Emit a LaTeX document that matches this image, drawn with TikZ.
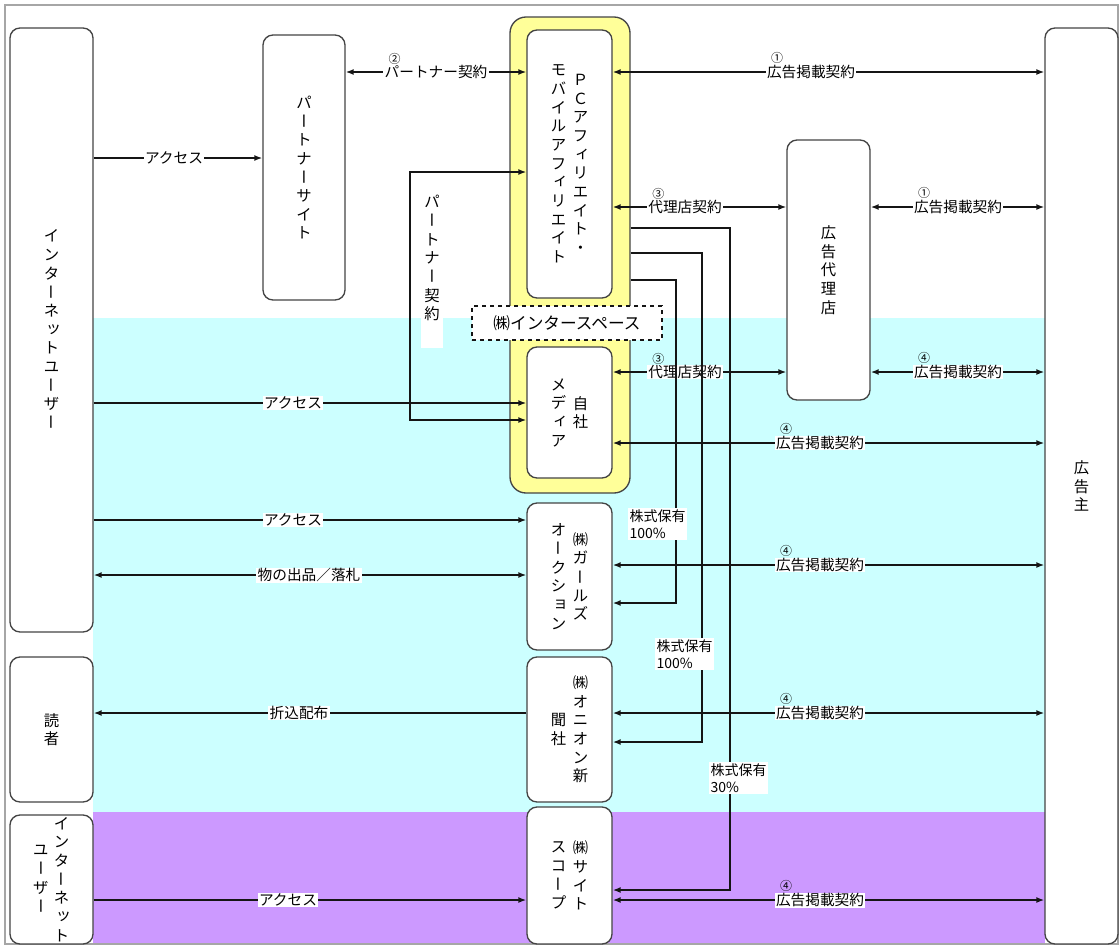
\documentclass[tikz,border=0pt]{standalone}
\usepackage{fontspec}
\usepackage{graphicx}
\setmainfont{Noto Sans CJK JP}
\newfontfamily\vjp{Noto Sans CJK JP}
\usetikzlibrary{arrows.meta,fit}
\definecolor{cyanbg}{HTML}{CCFFFF}
\definecolor{purplebg}{HTML}{CC99FF}
\definecolor{yel}{HTML}{FFFF99}
\definecolor{bord}{HTML}{444444}
\definecolor{ln}{HTML}{151515}
\makeatletter
\newcommand\vt[1]{\vbox{\vjp\fontsize{11.5}{14}\selectfont\baselineskip=14pt\lineskiplimit=-\maxdimen\vt@a#1\relax}}
\def\vt@a#1{\ifx\relax#1\else\hbox to 1.1em{\hss\vt@c{#1}\hss}\expandafter\vt@a\fi}
\def\vt@c#1{\ifcsname vtmap@#1\endcsname\csname vtmap@#1\endcsname\else#1\fi}
\newcommand\vt@small[1]{\raisebox{0.13em}{\kern0.13em#1\kern-0.13em}}
\expandafter\def\csname vtmap@ー\endcsname{\rotatebox[origin=c]{-90}{\rule[-0.12em]{0pt}{1em}ー}}
\expandafter\def\csname vtmap@ィ\endcsname{\vt@small{ィ}}
\expandafter\def\csname vtmap@ッ\endcsname{\vt@small{ッ}}
\expandafter\def\csname vtmap@ョ\endcsname{\vt@small{ョ}}
\makeatother
\tikzset{
  box/.style={draw=bord, line width=1pt, rounded corners=7.5pt, fill=white, inner sep=0pt},
  arr/.style={draw=ln, line width=1.5pt, -{Latex[length=6pt,width=4.5pt]}},
  arrtwo/.style={draw=ln, line width=1.5pt, {Latex[length=6pt,width=4.5pt]}-{Latex[length=6pt,width=4.5pt]}},
  lbl/.style={fill=white, inner xsep=1pt, inner ysep=0.5pt, font=\fontsize{11}{12}\selectfont},
  num/.style={inner sep=0pt, anchor=south west, font=\fontsize{9}{10}\selectfont},
  stk/.style={fill=white, align=left, inner sep=1pt, anchor=north west, font=\fontsize{10.5}{13}\selectfont},
  vtx/.style={inner sep=0pt}
}
\begin{document}
\begin{tikzpicture}[x=0.75pt,y=-0.75pt]
\useasboundingbox (0,0) rectangle (1120,946);
\fill[white] (0,0) rectangle (1120,946);
% background bands
\fill[cyanbg] (93,318) rectangle (1045,812);
\fill[purplebg] (93,812) rectangle (1045,944);
\draw[gray!70, line width=1.2pt] (5,5) rectangle (1118,944);
% boxes
\node[box, fit={(10,28)(93,632)}] (iu) {};
\node[box, fit={(10,657)(93,802)}] (rd) {};
\node[box, fit={(10,815)(93,944)}] (iu2) {};
\node[box, fit={(263,35)(345,300)}] (ps) {};
\node[box, fill=yel, rounded corners=12pt, fit={(510,17)(630,493)}] (yf) {};
\node[box, fit={(527,30)(612,298)}] (pc) {};
\node[draw=ln, dashed, line width=0.8pt, fill=white, inner sep=0pt, fit={(472,306)(662,340)}] (isp) {};
\node[box, fit={(527,347)(612,478)}] (jm) {};
\node[box, fit={(527,503)(612,650)}] (ga) {};
\node[box, fit={(527,657)(612,802)}] (on) {};
\node[box, fit={(527,807)(612,944)}] (ss) {};
\node[box, fit={(787,140)(870,400)}] (ag) {};
\node[box, fit={(1045,28)(1118,944)}] (ad) {};
% box texts
\node[vtx] (tiu) at (iu.center) {\vt{インターネットユーザー}};
\node[vtx] (trd) at (rd.center) {\vt{読者}};
\node[vtx] (tiu2a) at ([xshift=7.5pt]iu2.center) {\vt{インターネット}};
\node[vtx] (tiu2b) at ([xshift=-8pt]iu2.center) {\vt{ユーザー}};
\node[vtx] (tps) at (ps.center) {\vt{パートナーサイト}};
\node[vtx] (tpca) at ([xshift=8.25pt]pc.center) {\vt{ＰＣアフィリエイト・}};
\node[vtx] (tpcb) at ([xshift=-8.25pt]pc.center) {\vt{モバイルアフィリエイト}};
\node[font=\fontsize{12.5}{14}\selectfont, inner sep=0pt] (tisp) at (isp.center) {㈱インタースペース};
\node[vtx] (tjma) at ([xshift=8.25pt]jm.center) {\vt{自社}};
\node[vtx] (tjmb) at ([xshift=-8.25pt]jm.center) {\vt{メディア}};
\node[vtx] (tgaa) at ([xshift=8.25pt]ga.center) {\vt{㈱ガールズ}};
\node[vtx] (tgab) at ([xshift=-8.25pt]ga.center) {\vt{オークション}};
\node[vtx] (tona) at ([xshift=8.25pt]on.center) {\vt{㈱オニオン新}};
\node[vtx] (tonb) at ([xshift=-8.25pt]on.center) {\vt{聞社}};
\node[vtx] (tssa) at ([xshift=8.25pt]ss.center) {\vt{㈱サイト}};
\node[vtx] (tssb) at ([xshift=-8.25pt]ss.center) {\vt{スコープ}};
\node[vtx] (tag) at (ag.center) {\vt{広告代理店}};
\node[vtx] (tad) at (ad.center) {\vt{広告主}};
% connectors
\draw[arr] (iu.east |- 0,158) -- (ps.west |- 0,158);
\node[lbl] (l1) at (174,158) {アクセス};
\draw[arrtwo] (ps.east |- 0,72) -- (pc.west |- 0,72);
\node[lbl] (l2) at (436,72) {パートナー契約};
\node[num] (n2) at ([xshift=4pt]l2.north west) {②};
\draw[arrtwo] (pc.east |- 0,72) -- (ad.west |- 0,72);
\node[lbl] (l3) at (811,72) {広告掲載契約};
\node[num] (n3) at ([xshift=4pt]l3.north west) {①};
% partner loop
\coordinate (pk1) at (410,420);
\coordinate (pk2) at (410,172);
\draw[arrtwo] (jm.west |- pk1) -- (pk1) -- (pk2) -- (pc.west |- pk2);
\fill[white] (421,190) rectangle (443,348);
\node[vtx, anchor=north] (tpk) at (432,195) {\vt{パートナー契約}};
\draw[arr] (iu.east |- 0,403) -- (jm.west |- 0,403);
\node[lbl] (l4) at (293,403) {アクセス};
\draw[arrtwo] (pc.east |- 0,207) -- (ag.west |- 0,207);
\node[lbl] (l5) at (685,207) {代理店契約};
\node[num] (n5) at ([xshift=4pt]l5.north west) {③};
\draw[arrtwo] (ag.east |- 0,207) -- (ad.west |- 0,207);
\node[lbl] (l6) at (958,207) {広告掲載契約};
\node[num] (n6) at ([xshift=4pt]l6.north west) {①};
\draw[arrtwo] (jm.east |- 0,372) -- (ag.west |- 0,372);
\node[lbl] (l7) at (685,372) {代理店契約};
\node[num] (n7) at ([xshift=4pt]l7.north west) {③};
\draw[arrtwo] (ag.east |- 0,372) -- (ad.west |- 0,372);
\node[lbl] (l8) at (958,372) {広告掲載契約};
\node[num] (n8) at ([xshift=4pt]l8.north west) {④};
\draw[arrtwo] (jm.east |- 0,443) -- (ad.west |- 0,443);
\node[lbl] (l9) at (820,443) {広告掲載契約};
\node[num] (n9) at ([xshift=4pt]l9.north west) {④};
\draw[arr] (iu.east |- 0,520) -- (ga.west |- 0,520);
\node[lbl] (l10) at (293,520) {アクセス};
\draw[arrtwo] (iu.east |- 0,575) -- (ga.west |- 0,575);
\node[lbl] (l11) at (309,575) {物の出品／落札};
\draw[arrtwo] (ga.east |- 0,565) -- (ad.west |- 0,565);
\node[lbl] (l12) at (820,565) {広告掲載契約};
\node[num] (n12) at ([xshift=4pt]l12.north west) {④};
\draw[arr] (on.west |- 0,713) -- (rd.east |- 0,713);
\node[lbl] (l13) at (299,713) {折込配布};
\draw[arrtwo] (on.east |- 0,713) -- (ad.west |- 0,713);
\node[lbl] (l14) at (820,713) {広告掲載契約};
\node[num] (n14) at ([xshift=4pt]l14.north west) {④};
\draw[arr] (iu2.east |- 0,900) -- (ss.west |- 0,900);
\node[lbl] (l15) at (288,900) {アクセス};
\draw[arrtwo] (ss.east |- 0,900) -- (ad.west |- 0,900);
\node[lbl] (l16) at (820,900) {広告掲載契約};
\node[num] (n16) at ([xshift=4pt]l16.north west) {④};
% stock holding lines
\coordinate (s1a) at (676,280);
\coordinate (s1b) at (676,603);
\coordinate (s2a) at (702,253);
\coordinate (s2b) at (702,742);
\coordinate (s3a) at (730,228);
\coordinate (s3b) at (730,890);
\draw[arr] (yf.east |- s1a) -- (s1a) -- (s1b) -- (ga.east |- s1b);
\draw[arr] (yf.east |- s2a) -- (s2a) -- (s2b) -- (on.east |- s2b);
\draw[arr] (yf.east |- s3a) -- (s3a) -- (s3b) -- (ss.east |- s3b);
\node[stk] (k1) at (628,508) {株式保有\\100\%};
\node[stk] (k2) at (655,638) {株式保有\\100\%};
\node[stk] (k3) at (709,762) {株式保有\\30\%};
\end{tikzpicture}
\end{document}
